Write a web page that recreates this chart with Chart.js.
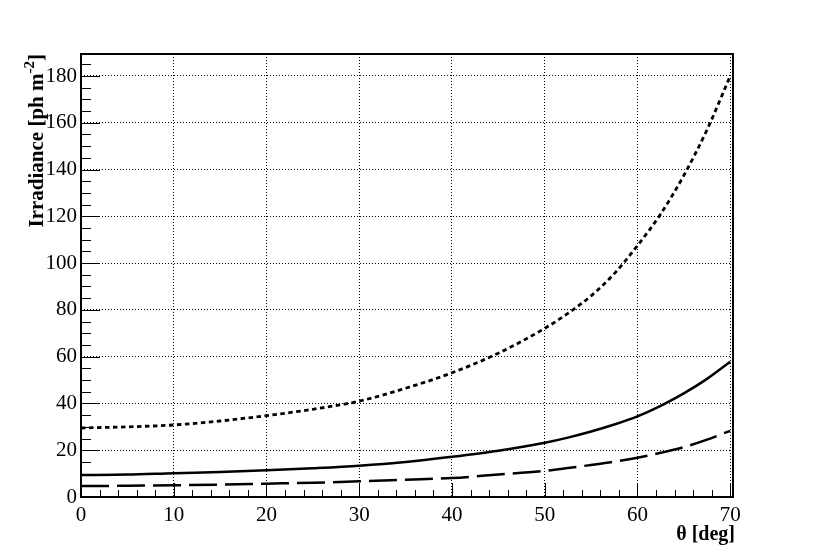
<!DOCTYPE html>
<html>
<head>
<meta charset="utf-8">
<script src="https://cdn.jsdelivr.net/npm/chart.js@4.4.0/dist/chart.umd.min.js"></script>
<style>
  html, body { margin: 0; padding: 0; background: #fff; }
  #wrap { width: 816px; height: 553px; }
</style>
</head>
<body>
<div id="wrap"><canvas id="c" width="816" height="553"></canvas></div>
<script>
// theta values (deg)
const theta = [0, 5, 10, 15, 20, 25, 30, 35, 40, 45, 50, 52.5, 55, 57.5, 60, 62.5, 65, 67.5, 70]
// irradiance curves
const dottedCurve = [29.5, 30.0, 30.8, 32.5, 34.8, 37.5, 41.0, 46.5, 53.1, 61.5, 72.1, 78.5, 86.0, 95.5, 107.5, 121, 137.5, 157, 180]
const solidCurve = [9.4, 9.6, 10.2, 10.7, 11.4, 12.3, 13.4, 15.0, 17.2, 19.8, 23.2, 25.4, 28.0, 31.0, 34.5, 39.0, 44.3, 50.5, 57.8]
const dashedCurve = [4.7, 4.8, 5.0, 5.3, 5.7, 6.1, 6.7, 7.4, 8.1, 9.6, 11.2, 12.4, 13.7, 15.1, 16.8, 18.9, 21.3, 24.5, 28.3]

const xMajor = [0, 10, 20, 30, 40, 50, 60, 70]
const yMajor = [0, 20, 40, 60, 80, 100, 120, 140, 160, 180]

const FONT = "'Liberation Serif', 'DejaVu Serif', serif"

const pts = arr => arr.map((v, i) => ({ x: theta[i], y: v }))

// frame, inner ticks and axis titles, ROOT style
const rootFrame = {
    id: 'rootFrame',
    afterDraw(chart) {
        const { ctx, chartArea: a, scales } = chart
        const xs = scales.x, ys = scales.y
        ctx.save()
        ctx.strokeStyle = '#000'
        ctx.lineWidth = 1
        ctx.beginPath()
        for (let v = 0; v <= 70; v += 2) {
            const px = Math.round(xs.getPixelForValue(v)) + 0.5
            const len = v % 10 === 0 ? 14 : 7
            ctx.moveTo(px, a.bottom)
            ctx.lineTo(px, a.bottom - len)
        }
        for (let v = 0; v <= 185; v += 5) {
            const py = Math.round(ys.getPixelForValue(v)) + 0.5
            const len = v % 20 === 0 ? 19 : 10
            ctx.moveTo(a.left, py)
            ctx.lineTo(a.left + len, py)
        }
        ctx.stroke()

        ctx.lineWidth = 2
        ctx.strokeRect(a.left, a.top, a.right - a.left, a.bottom - a.top)

        // x title
        ctx.fillStyle = '#000'
        ctx.font = 'bold 20px ' + FONT
        ctx.textAlign = 'right'
        ctx.textBaseline = 'alphabetic'
        ctx.fillText('\u03b8 [deg]', a.right + 2, 540)

        // y title, rotated, ending at the top of the axis
        ctx.translate(43, a.top)
        ctx.rotate(-Math.PI / 2)
        const main = 'Irradiance [ph m'
        ctx.font = 'bold 21px ' + FONT
        const w1 = ctx.measureText(main).width
        ctx.font = 'bold 15px ' + FONT
        const w2 = ctx.measureText('-2').width
        ctx.font = 'bold 21px ' + FONT
        const w3 = ctx.measureText(']').width
        let x0 = -(w1 + w2 + w3)
        ctx.textAlign = 'left'
        ctx.fillText(main, x0, 0)
        ctx.font = 'bold 15px ' + FONT
        ctx.fillText('-2', x0 + w1, -9)
        ctx.font = 'bold 21px ' + FONT
        ctx.fillText(']', x0 + w1 + w2, 0)
        ctx.restore()
    }
}

const dataConfig = {
    datasets: [
        {
            label: 'dotted',
            data: pts(dottedCurve),
            borderColor: '#000',
            borderWidth: 2.8,
            borderDash: [4.5, 3.5],
            cubicInterpolationMode: 'monotone',
            pointRadius: 0,
            fill: false
        },
        {
            label: 'solid',
            data: pts(solidCurve),
            borderColor: '#000',
            borderWidth: 2.5,
            cubicInterpolationMode: 'monotone',
            pointRadius: 0,
            fill: false
        },
        {
            label: 'dashed',
            data: pts(dashedCurve),
            borderColor: '#000',
            borderWidth: 2.5,
            borderDash: [28, 8],
            cubicInterpolationMode: 'monotone',
            pointRadius: 0,
            fill: false
        }
    ]
}

const config = {
    type: 'line',
    data: dataConfig,
    options: {
        responsive: false,
        animation: false,
        layout: { padding: { left: 0, right: 83, top: 54, bottom: 0 } },
        scales: {
            x: {
                type: 'linear',
                min: 0,
                max: 70.3,
                afterBuildTicks: s => { s.ticks = xMajor.map(v => ({ value: v })) },
                afterFit: s => { s.height = 56 },
                grid: { color: '#000', lineWidth: 1, drawTicks: false },
                border: { display: false, dash: [1, 2] },
                ticks: {
                    padding: 6,
                    color: '#000',
                    font: { family: FONT, size: 21 },
                    maxRotation: 0,
                    autoSkip: false
                }
            },
            y: {
                type: 'linear',
                min: 0,
                max: 189.4,
                afterBuildTicks: s => { s.ticks = yMajor.map(v => ({ value: v })) },
                afterFit: s => { s.width = 81 },
                grid: { color: '#000', lineWidth: 1, drawTicks: false },
                border: { display: false, dash: [1, 2] },
                ticks: {
                    padding: 4,
                    color: '#000',
                    font: { family: FONT, size: 21 },
                    autoSkip: false
                }
            }
        },
        plugins: {
            legend: { display: false },
            title: { display: false },
            tooltip: { enabled: false }
        }
    },
    plugins: [rootFrame]
}

let ctx = document.getElementById('c').getContext('2d')
let myChart = new Chart(ctx, config)
</script>
</body>
</html>
